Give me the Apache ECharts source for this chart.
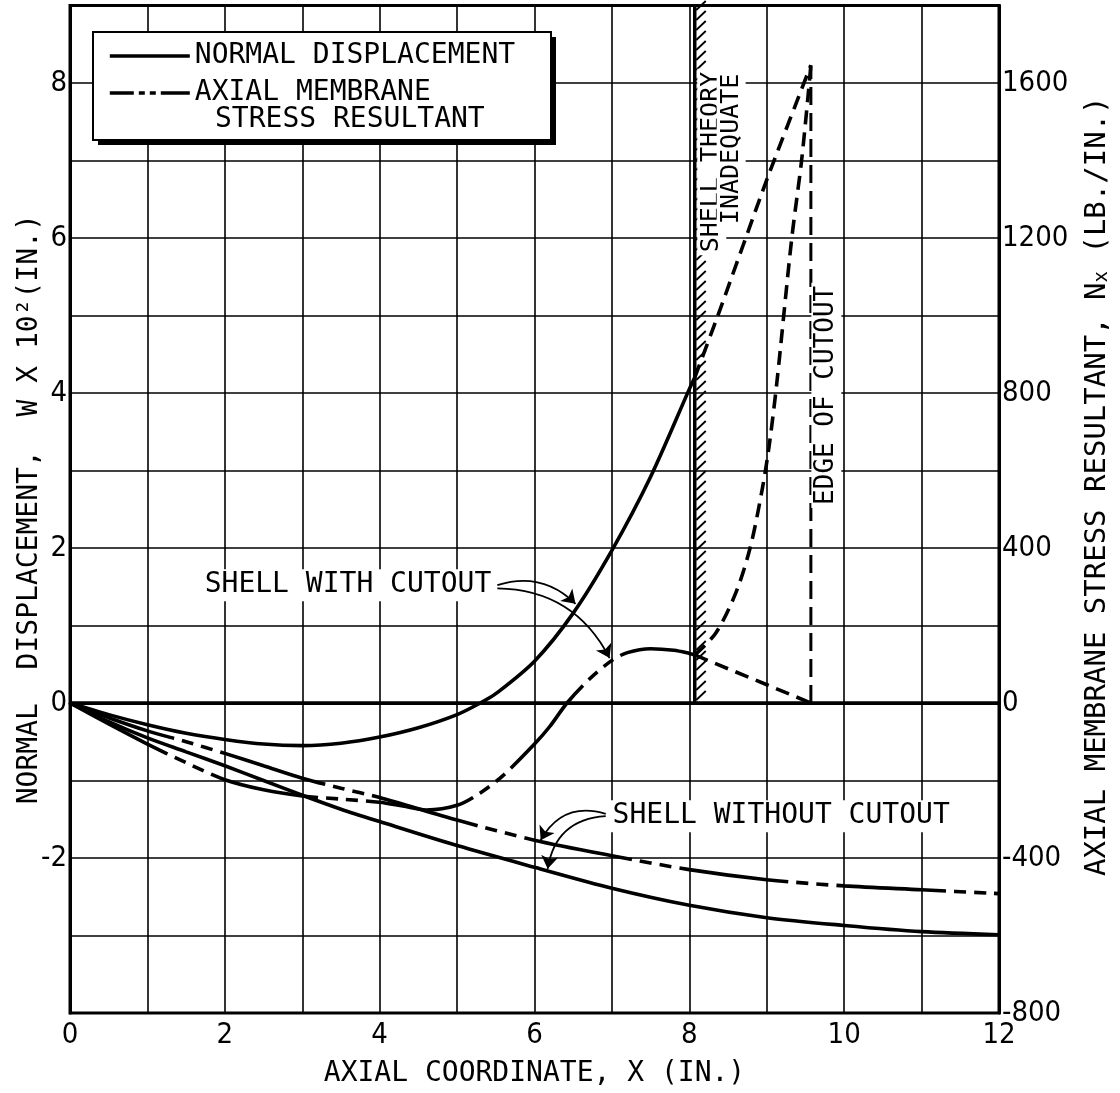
<!DOCTYPE html>
<html>
<head>
<meta charset="utf-8">
<script src="https://cdn.jsdelivr.net/npm/echarts@6/dist/echarts.min.js"></script>
<style>html,body{margin:0;padding:0;background:#fff}#c{width:1120px;height:1093px}</style>
</head>
<body>
<div id="c"></div>
<script>
// ---------------- DATA ----------------
// tick labels
const xTickLabels = [0, 2, 4, 6, 8, 10, 12];
const leftTickLabels = [-2, 0, 2, 4, 6, 8];
const rightTickLabels = [-800, -400, 0, 400, 800, 1200, 1600];

// Shell with cutout: normal displacement W x 10^2 (in.)
const wCutX = [0, 0.5, 1, 1.5, 2, 2.5, 3, 3.5, 4, 4.5, 5, 5.3, 5.5, 6, 6.5, 7, 7.5, 8, 8.07];
const wCutY = [0, -0.15, -0.28, -0.39, -0.47, -0.53, -0.55, -0.52, -0.44, -0.32, -0.15, 0, 0.12, 0.54, 1.16, 1.97, 2.92, 4.05, 4.2];
// extrapolation (shell theory inadequate)
const wCutExtX = [8.07, 8.38, 9.0, 9.57];
const wCutExtY = [4.2, 5.03, 6.75, 8.23];

// Shell with cutout: axial membrane stress resultant Nx (lb/in.)
const nCutX = [0, 0.5, 1, 1.5, 2, 2.5, 3, 3.5, 4, 4.3, 4.6, 5, 5.3, 5.6, 6, 6.2, 6.42, 6.7, 7, 7.2, 7.5, 7.8, 8, 8.07];
const nCutY = [0, -54, -106, -154, -198, -224, -240, -248, -256, -266, -276, -264, -232, -186, -106, -60, 0, 60, 110, 130, 140, 136, 128, 124];
// extrapolations beyond x = 8.07
const nCutUpX = [8.07, 8.34, 8.6, 8.79, 8.94, 9.03, 9.13, 9.32, 9.45, 9.54, 9.57];
const nCutUpY = [124, 180, 284, 404, 550, 662, 826, 1194, 1400, 1580, 1646];
const nCutDownX = [8.07, 9.57];
const nCutDownY = [124, 0];
// edge of cutout
const edgeX = [9.57, 9.57];
const edgeY = [0, 1646];

// Shell without cutout
const wNoX = [0, 0.5, 1, 1.5, 2, 2.5, 3, 3.5, 4, 5, 6, 7, 8, 9, 10, 11, 12];
const wNoY = [0, -0.24, -0.45, -0.63, -0.81, -1.0, -1.19, -1.37, -1.53, -1.84, -2.12, -2.39, -2.61, -2.77, -2.87, -2.95, -2.99];
const nNoX = [0, 0.5, 1, 1.5, 2, 2.5, 3, 3.5, 4, 5, 6, 7, 8, 9, 10, 11, 12];
const nNoY = [0, -38, -72, -100, -130, -162, -194, -220, -244, -302, -354, -394, -430, -456, -472, -482, -492];

// shell theory inadequate boundary (x, from W, to W)
const boundaryX = [8.07];
const boundaryFrom = [0];
const boundaryTo = [9];

// annotations (anchor in data coordinates of left axis)
const noteTexts = ['SHELL WITH CUTOUT', 'SHELL WITHOUT CUTOUT', 'SHELL THEORY', 'INADEQUATE', 'EDGE OF CUTOUT'];
const noteX = [5.48, 6.97, 8.29, 8.54, 9.77];
const noteY = [1.52, -1.46, 6.98, 7.15, 3.97];

// arrows: start and tip, data coordinates of left axis
const arrowFromX = [5.52, 5.52, 6.92, 6.92];
const arrowFromY = [1.52, 1.48, -1.43, -1.46];
const arrowToX = [6.53, 6.97, 6.08, 6.17];
const arrowToY = [1.28, 0.58, -1.77, -2.14];

// ---------------- STYLE ----------------
const FONT = "'DejaVu Sans Mono', monospace";
const NUMFONT = "'DejaVu Sans Condensed', 'DejaVu Sans', sans-serif";
const INK = '#000';
const dashDot = [110, 8, 12, 8, 12, 8];
const dashed = [14, 8];
const zip = (xs, ys) => xs.map((x, i) => [x, ys[i]]);

const noteAlign = ['right', 'left', 'center', 'center', 'center'];
const noteRot = [0, 0, Math.PI / 2, Math.PI / 2, Math.PI / 2];
const noteSize = [28, 28, 25, 25, 26];
const arrowCurve = [0.3, 0.3, -0.4, -0.4];

const chart = echarts.init(document.getElementById('c'));

const lineBase = (name, data, yIdx, type, z) => ({
  name, type: 'line', data, yAxisIndex: yIdx, symbol: 'none', smooth: 0.3,
  lineStyle: { color: INK, width: 3.6, type: type },
  itemStyle: { color: INK }, silent: true, z: z || 3
});

const option = {
  animation: false,
  backgroundColor: '#fff',
  grid: { left: 70, right: 120, top: 5.5, bottom: 80, show: true, borderColor: INK, borderWidth: 3, backgroundColor: 'transparent' },
  xAxis: {
    type: 'value', min: 0, max: 12, interval: 1,
    name: 'AXIAL COORDINATE, X (IN.)', nameLocation: 'middle', nameGap: 47, nameMoveOverlap: false,
    nameTextStyle: { fontFamily: FONT, fontSize: 28, color: INK },
    axisLine: { show: true, lineStyle: { color: INK, width: 3 } },
    axisTick: { show: false },
    axisLabel: { margin: 8, fontFamily: NUMFONT, fontSize: 29, color: INK,
      formatter: v => xTickLabels.indexOf(v) >= 0 ? String(v) : '' },
    splitLine: { show: true, lineStyle: { color: INK, width: 1.6 } }
  },
  yAxis: [
    {
      type: 'value', min: -4, max: 9, interval: 1, position: 'left',
      name: 'NORMAL  DISPLACEMENT,  W X 10²(IN.)', nameLocation: 'middle', nameGap: 26, nameRotate: 90, nameMoveOverlap: false,
      nameTextStyle: { fontFamily: FONT, fontSize: 28, color: INK },
      axisLine: { show: true, lineStyle: { color: INK, width: 3 } },
      axisTick: { show: false },
      axisLabel: { margin: 3, fontFamily: NUMFONT, fontSize: 29, color: INK,
        formatter: v => leftTickLabels.indexOf(v) >= 0 ? String(v) : '' },
      splitLine: { show: true, lineStyle: { color: INK, width: 1.6 } }
    },
    {
      type: 'value', min: -800, max: 1800, interval: 400, position: 'right',
      name: 'AXIAL MEMBRANE STRESS RESULTANT, N{sub|x} (LB./IN.)', nameLocation: 'middle', nameGap: 84, nameRotate: 90, nameMoveOverlap: false,
      nameTextStyle: { fontFamily: FONT, fontSize: 29, color: INK, padding: [0, 0, 0, 46],
        rich: { sub: { fontFamily: FONT, fontSize: 19, color: INK, verticalAlign: 'bottom', padding: [10, 0, 0, 0] } } },
      axisLine: { show: true, lineStyle: { color: INK, width: 3 } },
      axisTick: { show: false },
      axisLabel: { margin: 3, fontFamily: NUMFONT, fontSize: 29, color: INK,
        formatter: v => rightTickLabels.indexOf(v) >= 0 ? String(v) : '' },
      splitLine: { show: false }
    }
  ],
  legend: {
    orient: 'vertical', left: 108, top: 42, padding: 0, itemGap: 9,
    itemWidth: 80, itemHeight: 14, z: 20,
    textStyle: { fontFamily: FONT, fontSize: 28, color: INK },
    selectedMode: false,
    data: [
      { name: 'NORMAL DISPLACEMENT', itemStyle: { opacity: 0 }, lineStyle: { type: 'solid', width: 3.6, color: INK } },
      { name: 'AXIAL MEMBRANE', itemStyle: { opacity: 0 }, lineStyle: { type: [24, 5, 6, 5, 6, 5, 40], width: 3.6, color: INK } }
    ]
  },
  graphic: [
    { type: 'rect', z: 10, shape: { x: 98, y: 37, width: 458, height: 108 }, style: { fill: INK } },
    { type: 'rect', z: 11, shape: { x: 93, y: 32, width: 458, height: 108 }, style: { fill: '#fff', stroke: INK, lineWidth: 2 } },
    { type: 'text', z: 21, left: 215, top: 106, style: { text: 'STRESS RESULTANT', fontFamily: FONT, fontSize: 28, fill: INK } }
  ],
  series: [
    Object.assign(lineBase('NORMAL DISPLACEMENT', zip(wCutX, wCutY), 0, 'solid'), {
      markLine: { silent: true, symbol: 'none', label: { show: false },
        lineStyle: { color: INK, width: 3.5, type: 'solid' }, data: [{ yAxis: 0 }] }
    }),
    lineBase('AXIAL MEMBRANE', zip(nCutX, nCutY), 1, dashDot),
    lineBase('W without cutout', zip(wNoX, wNoY), 0, 'solid'),
    lineBase('Nx without cutout', zip(nNoX, nNoY), 1, dashDot),
    Object.assign(lineBase('W extrapolated', zip(wCutExtX, wCutExtY), 0, dashed), { smooth: 0.2 }),
    lineBase('Nx extrapolated', zip(nCutUpX, nCutUpY), 1, dashed),
    Object.assign(lineBase('Nx decay', zip(nCutDownX, nCutDownY), 1, dashed), { smooth: false }),
    Object.assign(lineBase('Edge of cutout', zip(edgeX, edgeY), 1, [18, 8]), { smooth: false, lineStyle: { color: INK, width: 3, type: [18, 8] } }),
    {
      name: 'boundary', type: 'custom', yAxisIndex: 0, silent: true, z: 4,
      data: boundaryX.map((x, i) => [x, boundaryFrom[i], boundaryTo[i]]),
      renderItem: (params, api) => {
        const p0 = api.coord([api.value(0), api.value(1)]);
        const p1 = api.coord([api.value(0), api.value(2)]);
        const children = [{ type: 'line', shape: { x1: p0[0], y1: p0[1], x2: p1[0], y2: p1[1] }, style: { stroke: INK, lineWidth: 3.5 } }];
        for (let yy = p0[1] - 3; yy > p1[1] + 4; yy -= 10) {
          children.push({ type: 'line', shape: { x1: p0[0] + 1.5, y1: yy, x2: p0[0] + 11, y2: yy - 9 }, style: { stroke: INK, lineWidth: 1.8 } });
        }
        return { type: 'group', children };
      }
    },
    {
      name: 'arrows', type: 'lines', coordinateSystem: 'cartesian2d', yAxisIndex: 0, silent: true, z: 6,
      symbol: ['none', 'arrow'], symbolSize: [0, 13],
      data: arrowFromX.map((x, i) => ({
        coords: [[x, arrowFromY[i]], [arrowToX[i], arrowToY[i]]],
        lineStyle: { curveness: arrowCurve[i] }
      })),
      lineStyle: { color: INK, width: 1.8, opacity: 1 }
    },
    {
      name: 'notes', type: 'custom', yAxisIndex: 0, silent: true, z: 7,
      data: noteX.map((x, i) => [x, noteY[i], i]),
      renderItem: (params, api) => {
        const i = api.value(2);
        const p = api.coord([api.value(0), api.value(1)]);
        return {
          type: 'text', x: p[0], y: p[1], rotation: noteRot[i],
          style: { text: noteTexts[i], fontFamily: FONT, fontSize: noteSize[i], fill: INK,
            align: noteAlign[i], verticalAlign: 'middle', backgroundColor: '#fff', padding: [2, 3, 2, 3] }
        };
      }
    }
  ]
};
chart.setOption(option);
</script>
</body>
</html>
